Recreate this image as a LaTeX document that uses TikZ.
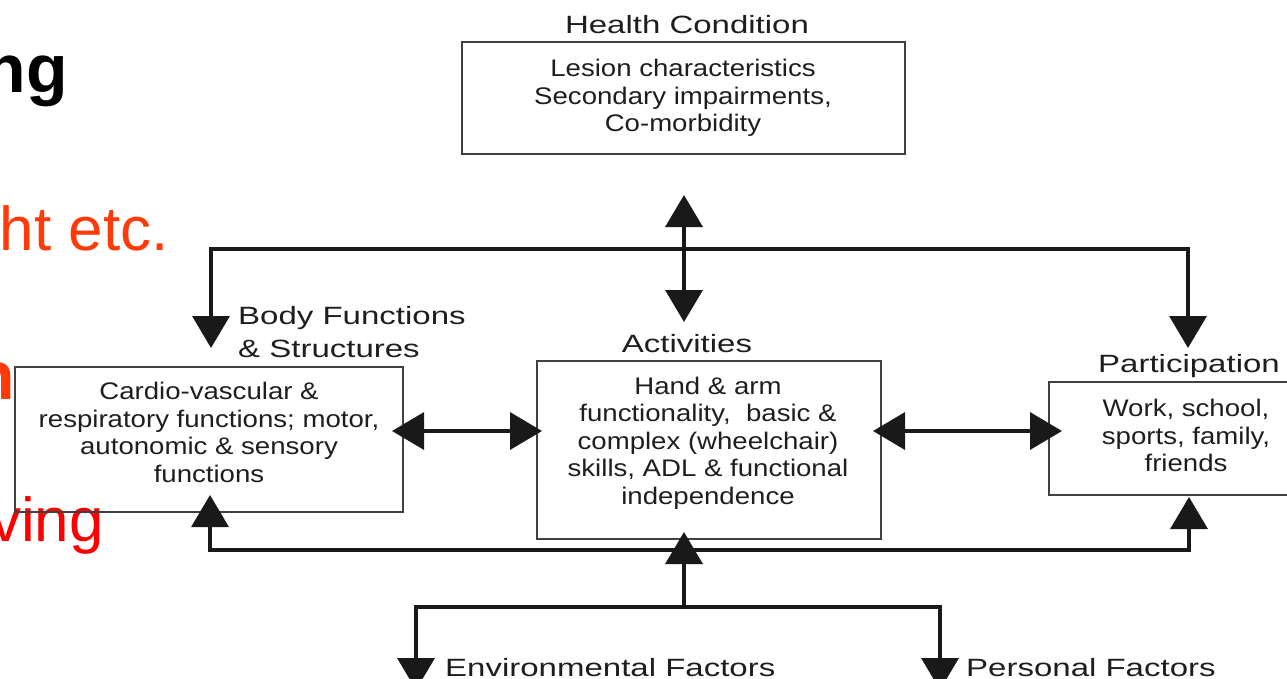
\documentclass[tikz,border=0pt]{standalone}
\usepackage{fontspec}
\setmainfont{Liberation Sans}
\newfontfamily\labelfont[FakeStretch=1.32]{Liberation Sans}
\newfontfamily\boxfont[FakeStretch=1.15]{Liberation Sans}
\usetikzlibrary{arrows.meta}
\definecolor{ink}{HTML}{1E1E1E}
\definecolor{slideorange}{HTML}{FF3A0A}
\definecolor{slidered}{HTML}{FF0000}

\begin{document}
\begin{tikzpicture}[x=1pt,y=-1pt,
  box/.style={draw=black!75, line width=1.8pt, inner sep=0pt},
  boxtext/.style={text=ink, align=center, inner sep=0pt,
    font=\boxfont\fontsize{24}{27.5}\selectfont},
  heading/.style={text=ink, inner sep=0pt, align=left,
    font=\labelfont\fontsize{25}{33}\selectfont},
  link/.style={line width=3.5pt, draw=black!90},
  twoway/.style={link, {Triangle[length=32pt,width=37pt]}-{Triangle[length=32pt,width=37pt]}},
  oneway/.style={link, -{Triangle[length=32pt,width=37pt]}},
  slide/.style={inner sep=0pt, anchor=base east}
]
\useasboundingbox (0,0) rectangle (1287,678);
\clip (0,0) rectangle (1287,678);

% ---- slide text running behind the figure ----
\node[slide, font=\bfseries\fontsize{68}{68}\selectfont] (titletail) at (68,92) {ng};
\node[slide, text=slideorange, font=\fontsize{62}{62}\selectfont] (pointA) at (169,250) {ht etc.};
\node[slide, text=slideorange, font=\bfseries\fontsize{68}{68}\selectfont] (pointB) at (15,399) {n};
\node[slide, text=slidered, font=\fontsize{62}{62}\selectfont] (pointC) at (104,541) {ving};

% ---- boxes ----
\node[box, minimum width=443pt, minimum height=112pt] (hc) at (683.5,98) {};
\node[box, minimum width=388pt, minimum height=145pt] (bf) at (209,439.5) {};
\node[box, minimum width=344pt, minimum height=178pt] (act) at (709,450) {};
\node[box, minimum width=250pt, minimum height=113pt] (part) at (1174,438.5) {};

% ---- box contents ----
\node[boxtext] (hctext) at (683,98) {Lesion characteristics\\Secondary impairments,\\Co-morbidity};
\node[boxtext] (bftext) at (209,432.5) {Cardio-vascular \&\\respiratory functions; motor,\\autonomic \& sensory\\functions};
\node[boxtext] (acttext) at (708,443) {Hand \& arm\\functionality,~ basic \&\\complex (wheelchair)\\skills, ADL \& functional\\independence};
\node[boxtext] (parttext) at (1186,435.5) {Work, school,\\sports, family,\\friends};

% ---- headings ----
\node[heading, anchor=base] (hclabel) at (687,33) {Health Condition};
\node[heading, anchor=base west] (bflabel) at (238,324) {Body Functions};
\node[heading, anchor=base west] (bflabel2) at (238,357) {\& Structures};
\node[heading, anchor=base] (actlabel) at (687,352) {Activities};
\node[heading, anchor=base] (partlabel) at (1189,372) {Participation};
\node[heading, anchor=base west] (envlabel) at (445,676) {Environmental Factors};
\node[heading, anchor=base west] (perslabel) at (966,676) {Personal Factors};

% ---- connector end points ----
\coordinate (hcIn) at (684,195);
\coordinate (actTop) at (684,322);
\coordinate (hubTop) at (684,249);
\coordinate (bfTop) at (211,348);
\coordinate (partTop) at (1188,348);
\coordinate (bfRight) at (392,431);
\coordinate (actLeft) at (542,431);
\coordinate (actRight) at (873,431);
\coordinate (partLeft) at (1062,431);
\coordinate (bfBottom) at (210,495);
\coordinate (partBottom) at (1189,497);
\coordinate (hubLow) at (684,550);
\coordinate (actBottom) at (684,532);
\coordinate (hubFactors) at (684,607);
\coordinate (envTip) at (416,690);
\coordinate (persTip) at (940,690);

% ---- connectors ----
\draw[twoway] (hcIn) -- (actTop);
\draw[twoway] (bfTop) |- (hubTop) -| (partTop);
\draw[twoway] (bfRight) -- (actLeft);
\draw[twoway] (actRight) -- (partLeft);
\draw[twoway] (bfBottom) |- (hubLow) -| (partBottom);
\draw[oneway] (hubFactors) -- (actBottom);
\draw[twoway] (envTip) |- (hubFactors) -| (persTip);
\end{tikzpicture}
\end{document}
